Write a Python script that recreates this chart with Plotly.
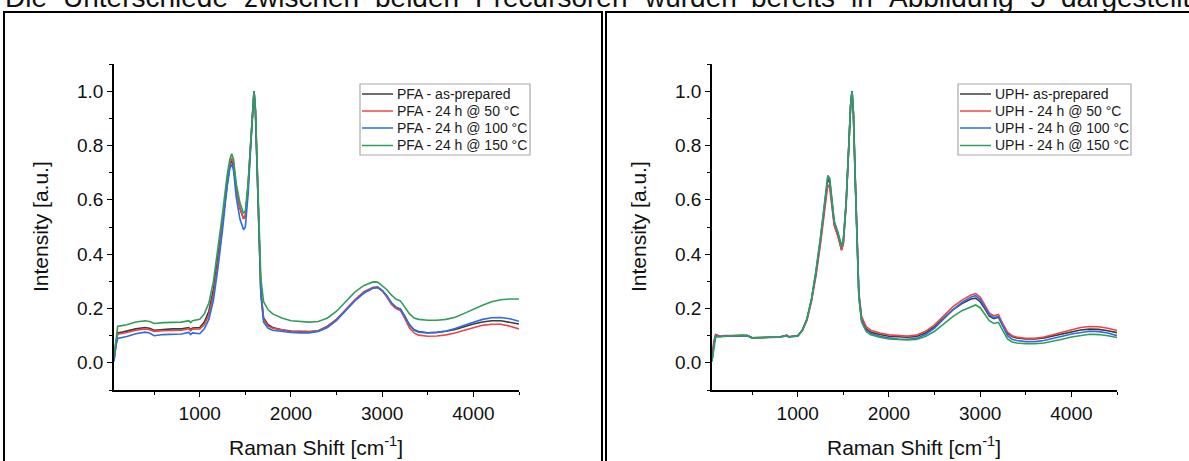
import plotly.graph_objects as go

W, H = 1189, 461

# ---------------- data ----------------
shift_cm = [60, 80, 100, 150, 200, 300, 400, 450, 500, 600, 700, 800, 880, 900, 920,
            1000, 1050, 1100, 1150, 1200, 1250, 1300, 1330, 1350, 1370, 1400, 1440, 1480,
            1500, 1530, 1560, 1580, 1595, 1610, 1630, 1650, 1670, 1700, 1750, 1800, 1900,
            2000, 2100, 2200, 2300, 2400, 2500, 2600, 2700, 2800, 2900, 2950, 3000, 3050,
            3100, 3150, 3200, 3250, 3300, 3350, 3400, 3500, 3600, 3700, 3800, 3900, 4000,
            4100, 4200, 4300, 4400, 4500]

pfa_asprep = [0.01, 0.07, 0.11, 0.113, 0.117, 0.125, 0.13, 0.127, 0.12, 0.123, 0.125, 0.125, 0.13, 0.122, 0.128,
              0.13, 0.15, 0.19, 0.27, 0.39, 0.52, 0.67, 0.73, 0.745, 0.725, 0.64, 0.57, 0.53,
              0.54, 0.65, 0.82, 0.95, 1.0, 0.93, 0.72, 0.44, 0.26, 0.165, 0.14, 0.13, 0.122,
              0.117, 0.115, 0.115, 0.118, 0.135, 0.16, 0.195, 0.23, 0.258, 0.275, 0.277, 0.265, 0.245,
              0.22, 0.205, 0.198, 0.17, 0.14, 0.122, 0.115, 0.111, 0.112, 0.116, 0.123, 0.133, 0.143,
              0.15, 0.155, 0.155, 0.15, 0.143]
pfa_50 = [0.015, 0.075, 0.105, 0.108, 0.112, 0.12, 0.125, 0.122, 0.116, 0.118, 0.12, 0.12, 0.126, 0.118, 0.124,
          0.125, 0.14, 0.175, 0.25, 0.37, 0.51, 0.67, 0.735, 0.755, 0.735, 0.645, 0.57, 0.53,
          0.54, 0.65, 0.82, 0.95, 1.0, 0.93, 0.72, 0.44, 0.26, 0.16, 0.135, 0.127, 0.12,
          0.115, 0.113, 0.113, 0.117, 0.133, 0.158, 0.195, 0.232, 0.262, 0.278, 0.28, 0.266, 0.243,
          0.216, 0.2, 0.193, 0.162, 0.128, 0.11, 0.102, 0.098, 0.099, 0.103, 0.11, 0.12, 0.13,
          0.138, 0.142, 0.142, 0.135, 0.125]
pfa_100 = [0.005, 0.06, 0.09, 0.093, 0.097, 0.107, 0.113, 0.11, 0.1, 0.104, 0.106, 0.106, 0.112, 0.104, 0.11,
           0.107, 0.125, 0.16, 0.23, 0.35, 0.49, 0.65, 0.715, 0.732, 0.71, 0.61, 0.53, 0.49,
           0.5, 0.62, 0.8, 0.945, 1.0, 0.93, 0.71, 0.43, 0.25, 0.15, 0.127, 0.12, 0.115,
           0.112, 0.11, 0.11, 0.115, 0.13, 0.156, 0.192, 0.228, 0.257, 0.275, 0.278, 0.267, 0.248,
           0.222, 0.205, 0.198, 0.17, 0.138, 0.12, 0.113, 0.11, 0.112, 0.117, 0.126, 0.138, 0.15,
           0.16, 0.166, 0.167, 0.162, 0.153]
pfa_150 = [0.02, 0.09, 0.135, 0.137, 0.14, 0.15, 0.155, 0.152, 0.145, 0.148, 0.15, 0.15, 0.155, 0.148, 0.155,
           0.16, 0.18, 0.22, 0.3, 0.42, 0.55, 0.69, 0.75, 0.77, 0.75, 0.66, 0.59, 0.55,
           0.56, 0.66, 0.82, 0.95, 1.0, 0.94, 0.74, 0.48, 0.31, 0.225, 0.195, 0.18, 0.165,
           0.155, 0.152, 0.15, 0.152, 0.165, 0.19, 0.225, 0.26, 0.285, 0.298, 0.297, 0.285, 0.27,
           0.25, 0.235, 0.228, 0.205, 0.18, 0.165, 0.16, 0.157, 0.157, 0.16, 0.168, 0.182, 0.198,
           0.212, 0.225, 0.232, 0.235, 0.235]

uph_asprep = [0.01, 0.07, 0.102, 0.097, 0.099, 0.1, 0.101, 0.1, 0.092, 0.094, 0.094, 0.095, 0.101, 0.096, 0.097,
              0.1, 0.12, 0.16, 0.23, 0.33, 0.45, 0.59, 0.675, 0.665, 0.6, 0.51, 0.47, 0.415,
              0.44, 0.58, 0.8, 0.95, 1.0, 0.92, 0.68, 0.42, 0.25, 0.16, 0.125, 0.113, 0.104,
              0.098, 0.095, 0.094, 0.097, 0.11, 0.133, 0.165, 0.195, 0.218, 0.235, 0.238, 0.225, 0.2,
              0.172, 0.163, 0.168, 0.135, 0.108, 0.097, 0.092, 0.088, 0.088, 0.092, 0.099, 0.107, 0.115,
              0.121, 0.124, 0.123, 0.118, 0.111]
uph_50 = [0.015, 0.08, 0.105, 0.098, 0.1, 0.1, 0.102, 0.1, 0.092, 0.094, 0.094, 0.095, 0.102, 0.096, 0.097,
          0.1, 0.118, 0.155, 0.225, 0.32, 0.44, 0.58, 0.655, 0.645, 0.59, 0.505, 0.465, 0.415,
          0.44, 0.58, 0.8, 0.95, 1.0, 0.92, 0.69, 0.43, 0.26, 0.17, 0.133, 0.12, 0.11,
          0.103, 0.1, 0.099, 0.102, 0.116, 0.14, 0.174, 0.206, 0.231, 0.25, 0.255, 0.242, 0.213,
          0.184, 0.173, 0.178, 0.143, 0.113, 0.1, 0.095, 0.09, 0.09, 0.095, 0.104, 0.114, 0.123,
          0.13, 0.134, 0.133, 0.127, 0.119]
uph_100 = [0.005, 0.065, 0.098, 0.097, 0.099, 0.1, 0.101, 0.1, 0.092, 0.094, 0.094, 0.094, 0.1, 0.095, 0.096,
           0.099, 0.12, 0.16, 0.232, 0.335, 0.46, 0.6, 0.685, 0.675, 0.61, 0.52, 0.48, 0.43,
           0.455, 0.59, 0.8, 0.95, 1.0, 0.92, 0.68, 0.42, 0.25, 0.155, 0.12, 0.108, 0.098,
           0.092, 0.088, 0.087, 0.09, 0.104, 0.128, 0.162, 0.195, 0.222, 0.242, 0.247, 0.233, 0.205,
           0.177, 0.166, 0.171, 0.135, 0.1, 0.087, 0.082, 0.078, 0.078, 0.082, 0.089, 0.098, 0.106,
           0.112, 0.116, 0.115, 0.11, 0.1]
uph_150 = [0.005, 0.06, 0.095, 0.096, 0.098, 0.1, 0.102, 0.1, 0.092, 0.093, 0.093, 0.094, 0.1, 0.095, 0.096,
           0.098, 0.12, 0.16, 0.235, 0.34, 0.465, 0.605, 0.69, 0.68, 0.615, 0.52, 0.48, 0.425,
           0.45, 0.59, 0.8, 0.95, 1.0, 0.92, 0.67, 0.41, 0.24, 0.15, 0.115, 0.103, 0.094,
           0.088, 0.085, 0.084, 0.086, 0.097, 0.116, 0.143, 0.17, 0.192, 0.208, 0.213, 0.203, 0.18,
           0.155, 0.145, 0.149, 0.118, 0.088, 0.077, 0.073, 0.07, 0.07, 0.073, 0.079, 0.087, 0.095,
           0.101, 0.105, 0.104, 0.1, 0.093]

pfa_names = ["PFA - as-prepared", "PFA - 24 h @ 50 °C", "PFA - 24 h @ 100 °C", "PFA - 24 h @ 150 °C"]
uph_names = ["UPH- as-prepared", "UPH - 24 h @ 50 °C", "UPH - 24 h @ 100 °C", "UPH - 24 h @ 150 °C"]
series_colors = ["#3c3c3c", "#f04444", "#2a6ee2", "#2f9e5a"]

x_ticks = [1000, 2000, 3000, 4000]
x_minor = [500, 1500, 2500, 3500, 4500]
y_ticks = [0.0, 0.2, 0.4, 0.6, 0.8, 1.0]
y_minor = [-0.1, 0.1, 0.3, 0.5, 0.7, 0.9, 1.1]

top_words = ["Die", "Unterschiede", "zwischen", "beiden", "Precursoren", "wurden",
             "bereits", "in", "Abbildung", "5", "dargestellt"]

# ---------------- layout helpers ----------------
FONT = "Liberation Sans, Arial, sans-serif"

def px(x):
    return x / W

def py(y):
    return 1 - y / H

fig = go.Figure()
for ys, nm, c in zip([pfa_asprep, pfa_50, pfa_100, pfa_150], pfa_names, series_colors):
    fig.add_trace(go.Scatter(x=shift_cm, y=ys, name=nm, mode="lines", showlegend=False,
                             line=dict(color=c, width=1.6), xaxis="x", yaxis="y"))
for ys, nm, c in zip([uph_asprep, uph_50, uph_100, uph_150], uph_names, series_colors):
    fig.add_trace(go.Scatter(x=shift_cm, y=ys, name=nm, mode="lines", showlegend=False,
                             line=dict(color=c, width=1.6), xaxis="x2", yaxis="y2"))

xcommon = dict(range=[60, 4500], showline=True, linecolor="black", linewidth=1.5,
               ticks="outside", ticklen=5, tickwidth=1.3, tickcolor="black",
               tickvals=x_ticks, showgrid=False, zeroline=False,
               tickfont=dict(family=FONT, size=19, color="#111"),
               minor=dict(tickvals=x_minor, ticks="outside", ticklen=3, tickwidth=1.3,
                          tickcolor="black", showgrid=False))
ycommon = dict(range=[-0.1, 1.1], showline=True, linecolor="black", linewidth=1.5,
               ticks="outside", ticklen=5, tickwidth=1.3, tickcolor="black",
               tickvals=y_ticks, tickformat=".1f", showgrid=False, zeroline=False,
               tickfont=dict(family=FONT, size=19, color="#111"),
               minor=dict(tickvals=y_minor, ticks="outside", ticklen=3, tickwidth=1.3,
                          tickcolor="black", showgrid=False))

fig.update_layout(
    width=W, height=H, margin=dict(l=0, r=0, t=0, b=0),
    paper_bgcolor="white", plot_bgcolor="white", showlegend=False,
    xaxis=dict(domain=[px(114), px(519)], anchor="y", **xcommon),
    yaxis=dict(domain=[py(390), py(64)], anchor="x", **ycommon),
    xaxis2=dict(domain=[px(712), px(1117)], anchor="y2", **xcommon),
    yaxis2=dict(domain=[py(390), py(64)], anchor="x2", **ycommon),
)

# panel frames
fig.add_shape(type="rect", xref="paper", yref="paper", x0=px(4), x1=px(602), y0=py(470), y1=py(12),
              line=dict(color="black", width=2), layer="below")
fig.add_shape(type="rect", xref="paper", yref="paper", x0=px(606), x1=px(1200), y0=py(470), y1=py(12),
              line=dict(color="black", width=2), layer="below")

# legends (boxed, Origin style)
legend_rows = [94, 111, 128, 145.5]
for names, box_l, box_r in [(pfa_names, 360, 530), (uph_names, 958, 1131)]:
    fig.add_shape(type="rect", xref="paper", yref="paper", x0=px(box_l), x1=px(box_r),
                  y0=py(155), y1=py(84), line=dict(color="#aaaaaa", width=1.2), fillcolor="white")
    for nm, c, ry in zip(names, series_colors, legend_rows):
        fig.add_shape(type="line", xref="paper", yref="paper", x0=px(box_l + 2), x1=px(box_l + 33),
                      y0=py(ry), y1=py(ry), line=dict(color=c, width=1.5))
        fig.add_annotation(text=nm, xref="paper", yref="paper", x=px(box_l + 35), y=py(ry),
                           xanchor="left", yanchor="middle", showarrow=False,
                           font=dict(family=FONT, size=14, color="#1a1a1a"))

# axis titles
for cx, ax_x in [(316, 40), (914, 638)]:
    fig.add_annotation(text="Raman Shift [cm<sup>-1</sup>]", xref="paper", yref="paper",
                       x=px(cx), y=py(446), xanchor="center", yanchor="middle", showarrow=False,
                       font=dict(family=FONT, size=21, color="#111"))
    fig.add_annotation(text="Intensity [a.u.]", xref="paper", yref="paper", textangle=-90,
                       x=px(ax_x), y=py(227), xanchor="center", yanchor="middle", showarrow=False,
                       font=dict(family=FONT, size=21, color="#111"))

# cut-off (justified) running text above the panels
word_left = [3, 61, 242, 373, 473, 642, 749, 849, 887, 1028, 1059]
for wd, wx in zip(top_words, word_left):
    fig.add_annotation(text=wd, xref="paper", yref="paper", x=px(wx), y=py(-2.5),
                       xanchor="left", yanchor="middle", showarrow=False,
                       font=dict(family=FONT, size=28, color="#111"))

fig.write_html("out.html")
